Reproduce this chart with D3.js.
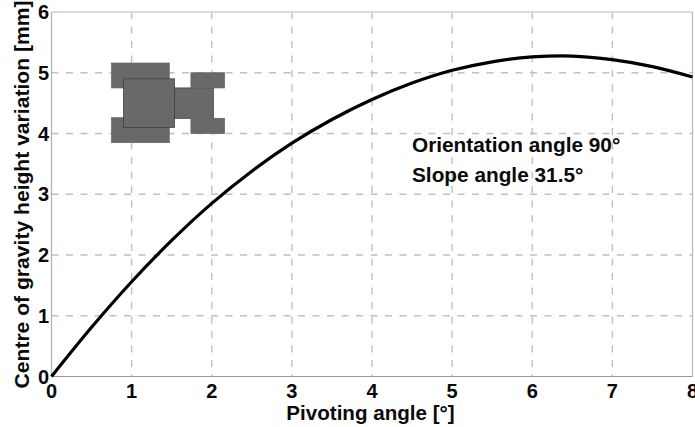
<!DOCTYPE html>
<html><head><meta charset="utf-8">
<script src="https://cdn.jsdelivr.net/npm/d3@7"></script>
<style>html,body{margin:0;padding:0;background:#fff}svg{display:block}text{font-family:"Liberation Sans",Arial,sans-serif;font-weight:bold;fill:#0a0a0a}</style>
</head><body><svg id="c" width="695" height="427"></svg>
<script>
const xTicks=[0,1,2,3,4,5,6,7,8];
const yTicks=[0,1,2,3,4,5,6];
const curveX=[0,0.5,1,1.5,2,2.5,3,3.5,4,4.5,5,5.5,6,6.5,7,7.5,8];
const curveY=[0,0.81,1.56,2.24,2.85,3.38,3.84,4.23,4.56,4.83,5.04,5.18,5.26,5.275,5.215,5.10,4.93];
const iconX0=[0.75,0.75,0.9,1.535,1.74,1.74];
const iconX1=[1.47,1.47,1.535,2.02,2.16,2.16];
const iconY0=[4.75,3.85,4.1,4.25,4.75,4.0];
const iconY1=[5.16,4.26,4.9,4.75,5.0,4.25];
const annotations=["Orientation angle 90°","Slope angle 31.5°"];
const annotationY=[3.69,3.2];
const svg=d3.select("#c");
const x=d3.scaleLinear().domain([0,8]).range([51.5,692.5]);
const y=d3.scaleLinear().domain([0,6]).range([376.5,12]);
const grid="#c0c0c0";
svg.append("g").selectAll("line").data(xTicks.slice(1,-1)).join("line")
 .attr("x1",d=>x(d)).attr("x2",d=>x(d)).attr("y1",y(6)).attr("y2",y(0))
 .attr("stroke",grid).attr("stroke-width",1.4).attr("stroke-dasharray","7 7.5");
svg.append("g").selectAll("line").data(yTicks.slice(1,-1)).join("line")
 .attr("x1",x(0)).attr("x2",x(8)).attr("y1",d=>y(d)).attr("y2",d=>y(d))
 .attr("stroke",grid).attr("stroke-width",1.4).attr("stroke-dasharray","7 7.5");
svg.append("line").attr("x1",x(0)).attr("x2",x(8)).attr("y1",y(6)).attr("y2",y(6)).attr("stroke","#cfcfcf").attr("stroke-width",1.4);
svg.append("line").attr("x1",x(8)).attr("x2",x(8)).attr("y1",y(6)).attr("y2",y(0)).attr("stroke","#b8b8b8").attr("stroke-width",1.2);
svg.append("line").attr("x1",x(0)).attr("x2",x(0)).attr("y1",y(6)).attr("y2",y(0)).attr("stroke","#b0b0b0").attr("stroke-width",1.2);
svg.append("line").attr("x1",x(0)).attr("x2",x(8)).attr("y1",y(0)).attr("y2",y(0)).attr("stroke","#999").attr("stroke-width",1.2);
svg.append("g").selectAll("rect").data(iconX0).join("rect")
 .attr("x",d=>x(d)).attr("width",(d,i)=>x(iconX1[i])-x(d))
 .attr("y",(d,i)=>y(iconY1[i])).attr("height",(d,i)=>y(iconY0[i])-y(iconY1[i]))
 .attr("fill","#696969").attr("stroke",(d,i)=>(i==2||i==3)?"#404040":"#696969").attr("stroke-width",0.8);
const pts=curveX.map((d,i)=>[d,curveY[i]]);
svg.append("path").attr("d",d3.line().x(d=>x(d[0])).y(d=>y(d[1])).curve(d3.curveCatmullRom)(pts))
 .attr("fill","none").attr("stroke","#000").attr("stroke-width",3.2);
svg.append("g").selectAll("text").data(xTicks).join("text")
 .attr("x",d=>x(d)).attr("y",398).attr("text-anchor","middle").attr("font-size",20).text(d=>d);
svg.append("g").selectAll("text").data(yTicks).join("text")
 .attr("x",49).attr("y",d=>y(d)+7).attr("text-anchor","end").attr("font-size",20).text(d=>d);
svg.append("text").attr("x",370.5).attr("y",420).attr("text-anchor","middle").attr("font-size",20.6).text("Pivoting angle [°]");
svg.append("text").attr("transform","translate(29,194.5) rotate(-90)").attr("text-anchor","middle").attr("font-size",21.1).text("Centre of gravity height variation [mm]");
svg.append("g").selectAll("text").data(annotations).join("text")
 .attr("x",412).attr("y",(d,i)=>y(annotationY[i])).attr("font-size",20.8).text(d=>d);
</script></body></html>
